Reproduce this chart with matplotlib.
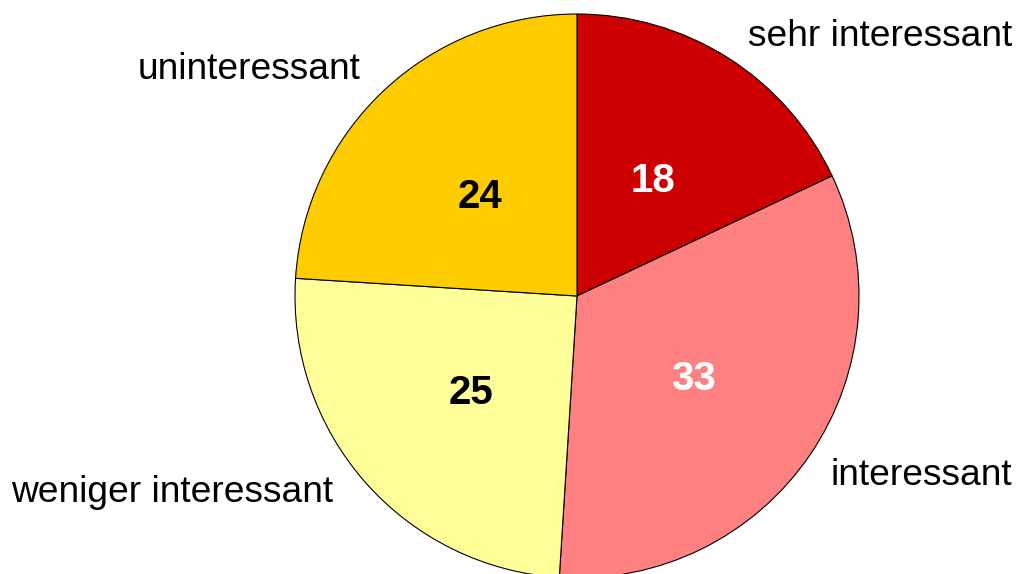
import matplotlib.pyplot as plt

plt.rcParams["font.family"] = ["Liberation Sans", "DejaVu Sans"]

# ── Data ──────────────────────────────────────────────────────────────────────

CATEGORIES = ["sehr interessant", "interessant", "weniger interessant", "uninteressant"]
VALUES     = [18, 33, 25, 24]
COLORS     = ["#CC0000", "#FF8080", "#FFFF99", "#FFCC00"]
NUM_COLORS = ["white", "white", "black", "black"]

# label anchor (pixel x, pixel y from top), horizontal alignment
LABEL_POS = [(1012, 46, "right"), (1012, 485, "right"),
             (11, 502, "left"), (138, 79, "left")]

W, H = 1019, 574

# ── Plot ──────────────────────────────────────────────────────────────────────

fig = plt.figure(figsize=(W / 100, H / 100), dpi=100)
cx, cy, r = 577, 296, 282
ax = fig.add_axes([(cx - r) / W, (H - cy - r) / H, 2 * r / W, 2 * r / H])

wedges, texts = ax.pie(
    VALUES, colors=COLORS, startangle=90, counterclock=False, radius=1,
    labels=[str(v) for v in VALUES], labeldistance=0.5,
    wedgeprops=dict(edgecolor="black", linewidth=0.8),
    textprops=dict(fontsize=29, fontweight="bold", ha="center", va="center"),
)
for t, c in zip(texts, NUM_COLORS):
    t.set_color(c)
    x, y = t.get_position()
    t.set_position((x, y - 4 / r))

ax.set_xlim(-1, 1)
ax.set_ylim(-1, 1)
ax.set_aspect("equal")
ax.axis("off")

for name, (x, y, ha) in zip(CATEGORIES, LABEL_POS):
    fig.text(x / W, 1 - y / H, name, ha=ha, va="baseline", fontsize=26.7)

plt.savefig("out.png", dpi=100)
